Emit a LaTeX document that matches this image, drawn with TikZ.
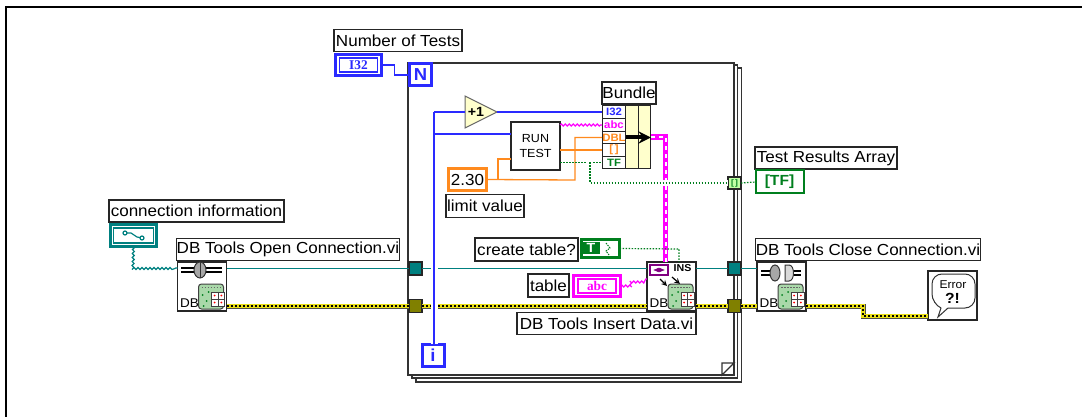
\documentclass[tikz,border=0pt]{standalone}
\usepackage{fontspec}
\setmainfont[FakeStretch=1.065]{Liberation Sans}
\newfontfamily\typefont{Liberation Serif}
\usepackage{tikz}
\usetikzlibrary{shapes.geometric, arrows, decorations.pathmorphing}
\newlength\px
\setlength\px{0.75pt}
\newcommand{\labelfont}{\fontsize{12pt}{13pt}\selectfont}
\newcommand{\smallfont}{\fontsize{8.8pt}{11.2pt}\selectfont}
\newcommand{\cellfont}{\fontsize{8pt}{8pt}\selectfont\bfseries}
\definecolor{lvblue}{HTML}{2A2AFF}
\definecolor{lvpink}{HTML}{FF00FF}
\definecolor{lvorange}{HTML}{FF8A1E}
\definecolor{lvgreen}{HTML}{007F1E}
\definecolor{lvteal}{HTML}{008080}
\definecolor{lvolive}{HTML}{808000}
\definecolor{lvcream}{HTML}{FFFFCC}
\definecolor{lvpurple}{HTML}{800080}
\definecolor{dbgreen}{HTML}{A9D8A9}
\tikzstyle{vilabel} = [rectangle, draw=black!85, fill=white, line width=1.2\px, minimum height=22\px, inner sep=0pt, outer sep=0pt, font=\labelfont]
\tikzstyle{vibox} = [rectangle, draw=black!85, fill=white, line width=1.5\px, minimum width=49\px, minimum height=49\px, inner sep=0pt, outer sep=0pt]
\tikzstyle{loopframe} = [rectangle, draw=black!80, fill=white, line width=1.5\px, inner sep=0pt, outer sep=0pt]
\tikzstyle{term} = [rectangle, draw=lvblue, fill=white, line width=3\px, minimum width=22\px, minimum height=22\px, inner sep=0pt, outer sep=0pt, text=lvblue, font=\fontsize{13pt}{13pt}\selectfont\bfseries]
\tikzstyle{ctl} = [rectangle, fill=white, line width=3.2\px, minimum width=46\px, minimum height=21.5\px, inner sep=0pt, outer sep=0pt]
\tikzstyle{ctlin} = [rectangle, fill=white, line width=1.5\px, minimum width=38\px, minimum height=14\px, inner sep=0pt, outer sep=0pt, font=\typefont\fontsize{10pt}{10pt}\selectfont\bfseries]
\tikzstyle{cell} = [rectangle, draw=black!85, fill=white, line width=1\px, minimum width=24\px, minimum height=12.5\px, inner sep=0pt, outer sep=0pt, font=\cellfont]
\tikzstyle{bundcol} = [rectangle, draw=black!85, fill=lvcream, line width=1.2\px, minimum width=12.5\px, minimum height=63\px, inner sep=0pt, outer sep=0pt]
\tikzstyle{tunnel} = [rectangle, draw=black!85, line width=1.2\px, minimum width=13\px, minimum height=13\px, inner sep=0pt, outer sep=0pt]
\tikzstyle{intwire} = [draw=lvblue, line width=1.2\px]
\tikzstyle{dblwire} = [draw=lvorange, line width=1.3\px]
\tikzstyle{boolwire} = [draw=lvgreen, line width=1.2\px, dash pattern=on 1.5\px off 1.5\px]
\tikzstyle{tealwire} = [draw=lvteal, line width=1.2\px]
\tikzstyle{wavy} = [line width=1.2\px, decorate, decoration={snake, segment length=4\px, amplitude=1\px}]
\tikzstyle{clusterwire} = [draw=lvpink, line width=5.5\px, postaction={draw=white, line width=2\px, dash pattern=on 4\px off 4\px}]
\tikzstyle{dbwire} = [draw=black!70, line width=5\px, postaction={draw=yellow!90!black, line width=3.4\px}, postaction={draw=black, line width=1.2\px, dash pattern=on 2\px off 2\px}]
% database picture of the VI icons
\newcommand{\dbicon}[1]{
\begin{scope}[shift={(#1.north west)}]
\node (#1db) [font=\fontsize{9.5pt}{10pt}\selectfont, inner sep=0pt] at (12,41) {DB};
\draw [fill=dbgreen, draw=black!75, line width=1\px, rounded corners=3\px] (21,22) rectangle (46,47);
\draw [black!60, line width=1\px, dash pattern=on 1.5\px off 1.5\px] (24,25) -- (43,25);
\foreach \dotx/\doty in {25/33, 29/39, 26/44, 31/30} {
\fill [lvgreen] (\dotx,\doty) circle (1\px);
}
\draw [fill=white, draw=black!75, line width=1\px] (34,30) rectangle (47,44);
\draw [black!75, line width=0.8\px] (34,37) -- (47,37) (40.5,30) -- (40.5,44);
\foreach \dotx in {37.2, 43.8} {
\foreach \doty in {33.5, 40.5} {
\fill [red] (\dotx,\doty) circle (1\px);
}
}
\end{scope}
}

\begin{document}
\begin{tikzpicture}[x=1\px, y=-1\px, node distance=37\px]
\useasboundingbox (0,0) rectangle (1082,417);

\draw [line width=2\px] (6,417) -- (6,7) -- (1082,7);

% for loop
\node (loopc) [loopframe, minimum width=325.5\px, minimum height=314\px] at (578.75,225) {};
\node (loopb) [loopframe, minimum width=325.5\px, minimum height=313\px] at (574.75,221.5) {};
\node (loopa) [loopframe, minimum width=326\px, minimum height=312\px] at (571,219) {};
\draw [fill=white, draw=black!80, line width=1.2\px] (722,375) -- (722,363) -- (734,363) -- cycle;

\node (nterm) [term] at (420.5,75) {N};
\node (iterm) [term] at (433,355) {i};

\node (numlabel) [vilabel, minimum width=128\px] at (398,40.5) {Number of Tests};
\node (numctl) [ctl, draw=lvblue, below of=numlabel, xshift=-39.5\px, yshift=12.5\px] {};
\node (numin) [ctlin, draw=lvblue, text=lvblue] at (numctl) {I32};

\node (incr) [isosceles triangle, isosceles triangle apex angle=53, minimum height=32\px, anchor=lower side, draw=black!60, fill=lvcream, line width=1\px, inner sep=0pt, outer sep=0pt] at (465,112) {};
\node (incrtext) [font=\fontsize{10pt}{10pt}\selectfont\bfseries, inner sep=0pt] at (476,112) {+1};
\node (runtest) [vibox, minimum height=48\px, align=center, font=\smallfont] at (535.5,146) {RUN\\TEST};
\node (limitctl) [ctl, draw=lvorange, line width=3\px, minimum width=38\px, minimum height=22\px, font=\labelfont] at (467.5,179.5) {2.30};
\node (limitlabel) [vilabel, minimum width=78\px, minimum height=23\px] at (485,206) {limit value};

% bundle
\node (bundlabel) [vilabel, minimum width=54\px] at (629,93) {Bundle};
\node (bundi) [cell, text=lvblue] at (614,112) {I32};
\node (bunds) [cell, text=lvpink] at (614,125) {abc};
\node (bundd) [cell, text=lvorange] at (614,137.5) {DBL};
\node (bunda) [cell, text=lvorange] at (614,150) {[\,]};
\node (bundt) [cell, text=lvgreen] at (614,162.5) {TF};
\node (bundca) [bundcol] at (632,137) {};
\node (bundcb) [bundcol] at (644.5,137) {};

% array result
\node (arrtun) [tunnel, minimum height=12\px, fill=lvcream!70!green!80, text=lvgreen, font=\fontsize{6pt}{6pt}\selectfont\bfseries] at (734.5,183) {[\,]};
\node (arrlabel) [vilabel, minimum width=142\px] at (826,158) {Test Results Array};
\node (arrind) [rectangle, fill=white, draw=lvgreen, line width=2\px, minimum width=48\px, minimum height=23\px, inner sep=0pt, outer sep=0pt, text=lvgreen, font=\fontsize{11pt}{11pt}\selectfont\bfseries] at (779.5,182) {[TF]};

% connection
\node (connlabel) [vilabel, minimum width=175\px] at (196.5,211) {connection information};
\node (connctl) [ctl, draw=lvteal, below of=connlabel, xshift=-63\px, yshift=12.5\px] {};
\node (connin) [ctlin, draw=lvteal, minimum width=40\px, minimum height=15\px] at (connctl) {};
\node (openvi) [vibox] at (202,286.5) {};
\node (openlabel) [vilabel, minimum width=222\px, above of=openvi, xshift=86\px] {DB Tools Open Connection.vi};
\node (closevi) [vibox] at (781.5,286.5) {};
\node (closelabel) [vilabel, minimum width=222\px, above of=closevi, xshift=86.5\px] {DB Tools Close Connection.vi};
\node (insertvi) [vibox] at (671.5,286.5) {};
\node (insertlabel) [vilabel, minimum width=179\px, below of=insertvi, xshift=-65\px] {DB Tools Insert Data.vi};
\node (insname) [font=\fontsize{7.5pt}{7pt}\selectfont\bfseries, inner sep=0pt] at (682.5,268) {INS};

\node (tealin) [tunnel, fill=lvteal] at (415.5,268.5) {};
\node (oliin) [tunnel, fill=lvolive] at (415.5,306) {};
\node (tealout) [tunnel, fill=lvteal] at (734.5,268.5) {};
\node (oliout) [tunnel, fill=lvolive] at (734.5,306) {};

\node (createlabel) [vilabel, minimum width=103\px, minimum height=23\px] at (526.5,249.5) {create table?};
\node (createctl) [ctl, draw=lvgreen, minimum width=38\px, minimum height=18\px] at (600.5,248.5) {};
\node (createt) [rectangle, fill=lvgreen, text=white, minimum width=18\px, minimum height=12\px, inner sep=0pt, font=\fontsize{10pt}{10pt}\selectfont\bfseries] at (591,248) {T};
\node (tablelabel) [vilabel, minimum width=41\px, minimum height=23\px] at (548.5,285.5) {table};
\node (tablectl) [ctl, draw=lvpink, minimum width=47\px] at (597,286) {};
\node (tablein) [ctlin, draw=lvpink, text=lvpink] at (tablectl) {abc};

\node (errbox) [vibox] at (952.5,295.5) {};
\node (errtext) [font=\fontsize{8.5pt}{9pt}\selectfont, inner sep=0pt] at (953,285) {Error};
\node (errmark) [font=\fontsize{11pt}{11pt}\selectfont\bfseries, inner sep=0pt] at (952.5,298) {?!};

\coordinate (ibend) at (434,112);
\coordinate (irun) at (434,134);
\coordinate (limbend) at (575,180);
\coordinate (limup) at (575,137.5);
\coordinate (limtap) at (498,180);
\coordinate (tfdrop) at (590,162.5);
\coordinate (tfbend) at (590,183);
\coordinate (pinkbend) at (665.5,137);
\coordinate (dotbend) at (679,249);
\coordinate (conndown) at (133,268);
\coordinate (strbend) at (630,286);
\coordinate (strend) at (647,279);
\coordinate (errbend) at (863,316);

% wires
\draw [tealwire] (openvi.east |- tealin) -- (tealin);
\draw [tealwire] (tealin) -- (insertvi.west |- tealin);
\draw [tealwire] (insertvi.east |- tealout) -- (tealout);
\draw [tealwire] (tealout) -- (closevi.west |- tealout);
\draw [dbwire] (openvi.east |- oliin) -- (oliin.west);
\draw [dbwire] (oliin.east) -- (insertvi.west |- oliin);
\draw [dbwire] (insertvi.east |- oliout) -- (oliout.west);
\draw [dbwire] (oliout.east) -- (closevi.west |- oliout);
\draw [dbwire] (closevi.east |- oliout) -| (errbend) -- (errbox.west |- errbend);
\draw [intwire] (numctl.east) -- ++(13,0) |- (nterm.west);
\draw [intwire, preaction={draw=white, line width=7\px}] (iterm.north -| ibend) -- (ibend);
\draw [intwire] (ibend) -- (incr.lower side);
\draw [intwire] (incr.apex) -- (bundi.west);
\draw [intwire] (irun) -- (runtest.west |- irun);
\draw [dblwire] (limitctl.east) -- (limbend) -- (limup) -- (bundd.west);
\draw [dblwire] (limtap) |- (runtest.west |- 0,159);
\draw [draw=lvorange, line width=2.6\px] (runtest.east |- bunda) -- (bunda.west);
\draw [lvpink, wavy] (runtest.east |- bunds) -- (bunds.west);
\draw [boolwire] (runtest.east |- bundt) -- (bundt.west);
\draw [clusterwire] (bundcb.east |- pinkbend) -- (pinkbend) -- (pinkbend |- insertvi.north);
\draw [boolwire, preaction={draw=white, solid, line width=6\px}] (tfdrop) -- (tfbend) -- (arrtun.west);
\draw [boolwire] (arrtun.east) -- (arrind.west);
\draw [boolwire] (createctl.east) -- (dotbend) -- (dotbend |- insertvi.north);
\draw [lvteal, wavy] (connctl.south) -- (conndown) -- (openvi.west |- conndown);
\draw [lvpink, wavy] (tablectl.east) -- (strbend) -- (strbend |- strend) -- (strend);
\draw [line width=4\px, ->, >=stealth] (bundca.west |- bundd) -- (bundcb.east |- bundd);

% small pictures
\draw [lvteal, line width=1.2\px] (125,233) -- (131,233) -- (137,237) -- (142,238);
\draw [lvteal, fill=white, line width=1.2\px] (125,233) circle (2\px) (142,238) circle (2\px);
\draw [lvgreen, line width=1\px, dash pattern=on 1.5\px off 1\px] (606,243) -- (610,248) -- (606,251) -- (609,255);
\draw [black, line width=1.2\px] (181,268) -- (222,268) (181,272) -- (222,272);
\draw [fill=black!35, draw=black!80, line width=1\px] (200,270) ellipse (6 and 8);
\draw [black!80, line width=1\px] (200,262) -- (200,278);
\draw [black, line width=1.2\px] (761,271) -- (775,271) (761,275) -- (775,275) (788,271) -- (801,271) (788,275) -- (801,275);
\draw [fill=black!35, draw=black!80, line width=1\px] (775,273) ellipse (5 and 8);
\draw [fill=black!15, draw=black!80, line width=1\px] (785,265) -- (789,265) .. controls (795,265) and (795,281) .. (789,281) -- (785,281) -- cycle;
\draw [fill=white, draw=lvpurple, line width=2\px] (650,265) rectangle (668,275);
\draw [fill=lvpurple, draw=lvpurple] (654,270) -- (659,268) -- (664,270) -- (659,272) -- cycle;
\draw [->, >=stealth, line width=1.2\px] (660,279) -- (667,286);
\draw [->, >=stealth, line width=1.2\px] (672,277) -- (680,284);
\dbicon{openvi}
\dbicon{closevi}
\dbicon{insertvi}
\draw [black!80, line width=1\px, rounded corners=10\px] (941,308) -- (932,304) -- (932,274) -- (975,274) -- (975,308) -- (948,308);
\draw [black!80, line width=1\px] (941,308) -- (938,317) -- (948,308);

\end{tikzpicture}
\end{document}
